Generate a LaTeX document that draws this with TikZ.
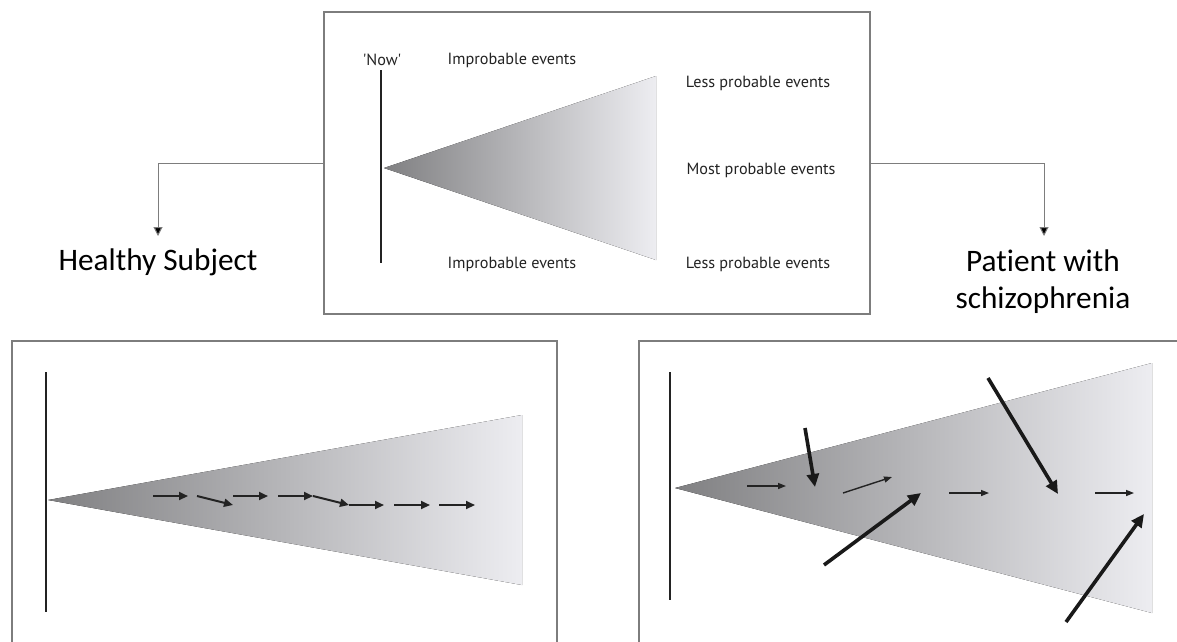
\documentclass[tikz,border=0pt]{standalone}
\usepackage{fontspec}
\setmainfont[RawFeature={-liga;-clig}]{Carlito}
\newfontfamily\labfont{PT Sans}
\usetikzlibrary{arrows.meta}
\definecolor{boxgray}{RGB}{125,125,125}
\definecolor{dark}{RGB}{35,35,35}
\definecolor{apexgray}{RGB}{128,128,130}
\definecolor{midgray}{RGB}{196,198,201}
\definecolor{endgray}{RGB}{237,237,241}
\tikzset{
  framebox/.style={draw=boxgray, line width=1.3pt},
  nowline/.style={draw=dark, line width=2pt},
  cone/.style={left color=apexgray, middle color=midgray, right color=endgray},
  conn/.style={draw=boxgray, line width=1pt, -{Triangle[length=9pt,width=9pt,fill=black]}},
  lab/.style={font=\labfont\fontsize{16.2}{19}\selectfont, text=dark, inner sep=0pt},
  big/.style={font=\fontsize{31.3}{37}\selectfont, text=black, inner sep=0pt, align=center},
  step1/.style={draw=dark, line width=2pt, -{Triangle[length=9pt,width=8pt]}},
  thin1/.style={draw=dark, line width=1.4pt, -{Triangle[length=8pt,width=6pt]}},
  thick1/.style={draw=black!90, line width=3.6pt, -{Triangle[length=13pt,width=12pt]}}
}
\begin{document}
\begin{tikzpicture}[x=1pt,y=-1pt]
\useasboundingbox (0,0) rectangle (1177,641);
\clip (0,0) rectangle (1177,641);
\fill[white] (0,0) rectangle (1177,641);

% ---- top panel ----
\node[framebox, minimum width=546pt, minimum height=302pt, inner sep=0pt] (top) at (597,163) {};
\coordinate (nowT) at (381,70);
\coordinate (nowB) at (381,263);
\draw[nowline] (nowT) -- (nowB);
\fill[cone] (384,168) -- (656,76) -- (656,260) -- cycle;
\node[lab] (now) at (382,60) {'Now'};
\node[lab] (imp1) at (512,60) {Improbable events};
\node[lab] (imp2) at (512,264) {Improbable events};
\node[lab] (less1) at (758,83) {Less probable events};
\node[lab] (most) at (761,170) {Most probable events};
\node[lab] (less2) at (758,264) {Less probable events};

% ---- labels and connectors ----
\node[big] (hs) at (158,262) {Healthy Subject};
\node[big] (pw) at (1043,282) {Patient with\\[0pt]schizophrenia};
\coordinate (hsin) at (158,236);
\coordinate (pwin) at (1044,236);
\draw[conn] (top.west) -| (hsin);
\draw[conn] (top.east) -| (pwin);

% ---- bottom left panel ----
\draw[framebox] (12,650) -- (12,341) -- (557,341) -- (557,650);
\draw[nowline] (46,372) -- (46,612);
\fill[cone] (48,500) -- (522,415) -- (522,585) -- cycle;
\coordinate (h1) at (153,496); \coordinate (h2) at (188,496);
\coordinate (h3) at (197,496); \coordinate (h4) at (233,505);
\coordinate (h5) at (233,496); \coordinate (h6) at (268,496);
\coordinate (h7) at (278,496); \coordinate (h8) at (313,496);
\coordinate (h9) at (349,505);
\coordinate (h10) at (384,505);
\coordinate (h11) at (394,505); \coordinate (h12) at (430,505);
\coordinate (h13) at (439,505); \coordinate (h14) at (475,505);
\draw[step1] (h1) -- (h2);
\draw[step1] (h3) -- (h4);
\draw[step1] (h5) -- (h6);
\draw[step1] (h7) -- (h8);
\draw[step1] (h8) -- (h9);
\draw[step1] (h9) -- (h10);
\draw[step1] (h11) -- (h12);
\draw[step1] (h13) -- (h14);

% ---- bottom right panel ----
\draw[framebox] (639,650) -- (639,341) -- (1190,341);
\draw[nowline] (670,372) -- (670,600);
\fill[cone] (675,488) -- (1152,363) -- (1152,613) -- cycle;
\coordinate (p1) at (747,486); \coordinate (p2) at (786,486);
\coordinate (p3) at (805,428); \coordinate (p4) at (815,487);
\coordinate (p5) at (843,493); \coordinate (p6) at (892,477);
\coordinate (p7) at (824,565); \coordinate (p8) at (921,493);
\coordinate (p9) at (949,493); \coordinate (p10) at (989,493);
\coordinate (p11) at (988,378); \coordinate (p12) at (1058,494);
\coordinate (p13) at (1095,493); \coordinate (p14) at (1134,493);
\coordinate (p15) at (1066,622); \coordinate (p16) at (1144,514);
\draw[thin1] (p1) -- (p2);
\draw[thick1] (p3) -- (p4);
\draw[thin1] (p5) -- (p6);
\draw[thick1] (p7) -- (p8);
\draw[thin1] (p9) -- (p10);
\draw[thick1] (p11) -- (p12);
\draw[thin1] (p13) -- (p14);
\draw[thick1] (p15) -- (p16);
\end{tikzpicture}
\end{document}
